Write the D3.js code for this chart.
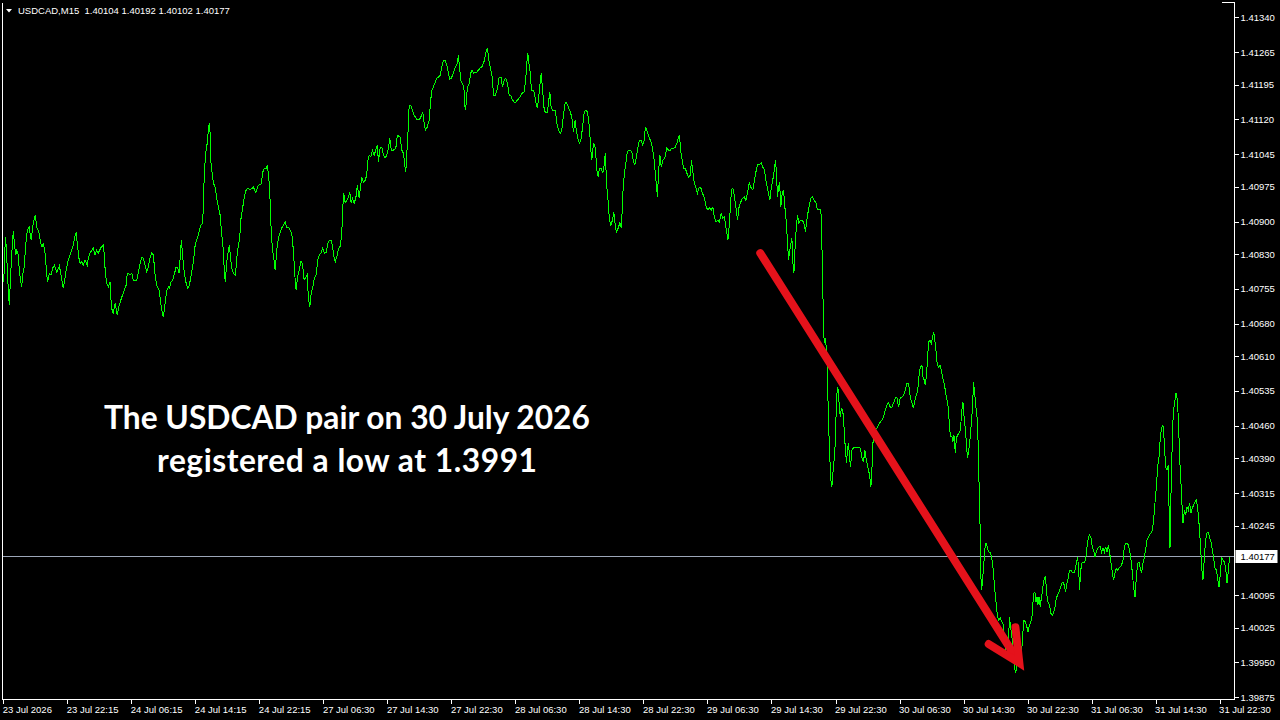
<!DOCTYPE html>
<html><head><meta charset="utf-8">
<script src="https://cdn.jsdelivr.net/npm/d3@7"></script>
<style>html,body{margin:0;padding:0;background:#000;overflow:hidden}</style>
</head><body>
<svg id="c" width="1280" height="720"></svg>
<script>
// ---------- data ----------
const symbolLabel = "USDCAD,M15";
const ohlcValues = [1.40104, 1.40192, 1.40102, 1.40177];
const lastClose = 1.40177;
const priceTicks = [1.41340,1.41265,1.41195,1.41120,1.41045,1.40975,1.40900,1.40830,1.40755,1.40680,1.40610,1.40535,1.40460,1.40390,1.40315,1.40245,1.40095,1.40025,1.39950,1.39875];
const timeTickBars = [0,32,64,96,128,160,192,224,256,288,320,352,384,416,448,480,512,544,576,608];
const timeTickLabels = ["23 Jul 2026","23 Jul 22:15","24 Jul 06:15","24 Jul 14:15","24 Jul 22:15","27 Jul 06:30","27 Jul 14:30","27 Jul 22:30","28 Jul 06:30","28 Jul 14:30","28 Jul 22:30","29 Jul 06:30","29 Jul 14:30","29 Jul 22:30","30 Jul 06:30","30 Jul 14:30","30 Jul 22:30","31 Jul 06:30","31 Jul 14:30","31 Jul 22:30"];
// [bar index (M15 bars from 23 Jul 14:15), close price]
const closeSeries = [
[0,1.40770],[0.5,1.40795],[1,1.40866],[1.5,1.40845],[2.5,1.40752],[3,1.40720],[3.7,1.40789],[4.7,1.40864],[5,1.40879],[5.7,1.40845],[6.2,1.40828],[6.7,1.40838],[7.5,1.40828],[8,1.40795],[8.7,1.40770],[9.2,1.40759],[9.7,1.40785],[10.4,1.40802],[11.2,1.40849],[12,1.40881],[12.9,1.40888],[13.9,1.40860],[14.7,1.40888],[15.5,1.40907],[16,1.40914],[16.7,1.40888],[17.7,1.40879],[18.7,1.40853],[19.4,1.40845],[20,1.40853],[20.9,1.40832],[21.7,1.40785],[22.2,1.40770],[23,1.40789],[23.9,1.40785],[24.7,1.40800],[25.5,1.40806],[26.7,1.40791],[28,1.40804],[28.7,1.40789],[29.7,1.40763],[30,1.40757],[30.9,1.40780],[31.7,1.40802],[32.5,1.40817],[33.4,1.40828],[34.7,1.40845],[35.9,1.40871],[36.4,1.40875],[37,1.40853],[37.7,1.40823],[38.4,1.40810],[39.2,1.40813],[40,1.40806],[40.9,1.40817],[42,1.40806],[42.5,1.40821],[43.4,1.40832],[44.2,1.40838],[45,1.40843],[45.9,1.40828],[46.7,1.40838],[47.5,1.40832],[48.7,1.40843],[50,1.40849],[50.5,1.40828],[51,1.40789],[51.7,1.40767],[52.5,1.40759],[53.4,1.40770],[53.9,1.40726],[54.5,1.40705],[55,1.40703],[55.9,1.40724],[57,1.40698],[57.7,1.40716],[58.4,1.40726],[59.2,1.40737],[60,1.40746],[61.4,1.40763],[62,1.40789],[63.4,1.40785],[64.2,1.40789],[65,1.40774],[65.9,1.40772],[66.7,1.40774],[67.5,1.40791],[68.4,1.40810],[69.2,1.40823],[70,1.40821],[70.9,1.40806],[71.7,1.40791],[72.5,1.40802],[73.4,1.40823],[74.2,1.40832],[75,1.40828],[75.9,1.40785],[76.7,1.40763],[77.9,1.40752],[78.7,1.40724],[79.5,1.40703],[80,1.40694],[80.9,1.40724],[81.7,1.40752],[82.5,1.40759],[83,1.40757],[83.9,1.40770],[84.7,1.40774],[85.4,1.40785],[86.4,1.40802],[87.2,1.40800],[87.9,1.40789],[89,1.40860],[89.7,1.40823],[90.5,1.40789],[91.4,1.40767],[92.2,1.40757],[93,1.40763],[94.2,1.40791],[95,1.40813],[96,1.40853],[97,1.40864],[97.7,1.40875],[98.7,1.40892],[99.7,1.40897],[100.5,1.41006],[101.2,1.41047],[102,1.41071],[102.5,1.41097],[103,1.41112],[103.4,1.41090],[103.7,1.41032],[104.4,1.41004],[105,1.40983],[105.9,1.40974],[106.7,1.40950],[107.5,1.40931],[108.4,1.40914],[109.2,1.40871],[110,1.40838],[110.5,1.40789],[111,1.40770],[111.7,1.40813],[112.4,1.40834],[113,1.40849],[113.7,1.40817],[114.4,1.40795],[115,1.40789],[115.9,1.40785],[116.4,1.40802],[117,1.40834],[117.7,1.40853],[118.2,1.40866],[118.7,1.40903],[119.7,1.40931],[120.5,1.40953],[121.4,1.40968],[122.5,1.40972],[123.4,1.40968],
[125,1.40974],[126.2,1.40963],[127.5,1.40978],[128.9,1.40981],[129.7,1.41006],[130.4,1.41015],[131.4,1.41015],[132,1.41022],[132.9,1.40985],[133.4,1.40942],[133.9,1.40881],[134.5,1.40843],[135.2,1.40821],[135.9,1.40795],[136.7,1.40838],[137.5,1.40864],[138.4,1.40877],[139.2,1.40886],[140,1.40892],[140.9,1.40899],[141.7,1.40888],[142.5,1.40888],[143.4,1.40881],[144.2,1.40875],[145,1.40838],[145.9,1.40774],[146.4,1.40752],[147,1.40778],[147.9,1.40795],[148.7,1.40813],[149.2,1.40813],[149.7,1.40802],[150.4,1.40774],[151.2,1.40780],[151.9,1.40785],[152.5,1.40737],[153.2,1.40716],[153.9,1.40746],[154.7,1.40757],[155.5,1.40778],[156.4,1.40785],[157.2,1.40817],[158,1.40828],[158.9,1.40832],[159.7,1.40843],[160.5,1.40832],[161.4,1.40834],[162.2,1.40853],[163,1.40860],[163.9,1.40860],[164.7,1.40843],[165.4,1.40821],[166,1.40813],[166.9,1.40828],[167.7,1.40843],[168.5,1.40847],[169.2,1.40877],[169.7,1.40931],[170.2,1.40961],[170.9,1.40940],[171.7,1.40946],[172.5,1.40953],[173.2,1.40963],[173.9,1.40940],[174.5,1.40950],[175.4,1.40940],[176.2,1.40950],[177,1.40978],[177.9,1.40950],[178.5,1.40974],[179.2,1.40996],[180,1.40985],[180.9,1.40989],[181.7,1.41000],[182,1.41026],[182.9,1.41043],[183.7,1.41039],[184.5,1.41054],[185.4,1.41043],[186.2,1.41054],[187,1.41065],[187.5,1.41028],[188.4,1.41060],[189.2,1.41060],[190,1.41043],[190.9,1.41037],[191.7,1.41043],[192.5,1.41058],[193.2,1.41080],[193.9,1.41054],[195,1.41054],[196.2,1.41058],[197,1.41086],[198.4,1.41082],[199.2,1.41054],[200,1.41047],[200.7,1.41022],[201.2,1.41006],[201.7,1.41047],[202.2,1.41082],[202.9,1.41151],[203.7,1.41151],[204.5,1.41140],[205.4,1.41129],[206.2,1.41123],[207,1.41119],[207.9,1.41119],[208.7,1.41125],[209.7,1.41136],[210.4,1.41112],[211,1.41097],[211.9,1.41103],[212.9,1.41119],[213.5,1.41155],[214.2,1.41183],[215,1.41190],[215.9,1.41200],[216.7,1.41209],[217.5,1.41211],[218.4,1.41215],[219.2,1.41233],[220,1.41246],[220.9,1.41246],[221.7,1.41237],[222.5,1.41220],[223.2,1.41207],[224,1.41209],[225,1.41220],[225.9,1.41233],[226.7,1.41237],[227.5,1.41258],[228,1.41233],[228.9,1.41200],[229.5,1.41198],[230.2,1.41190],[230.9,1.41140],[231.4,1.41155],[232,1.41190],[232.9,1.41198],[233.7,1.41220],[234.2,1.41226],[235,1.41220],[235.9,1.41222],[236.7,1.41222],[237.5,1.41226],[238.4,1.41231],[239.2,1.41233],[240.2,1.41243],[241.2,1.41263],[242,1.41274],[242.9,1.41243],[243.7,1.41226],[244.5,1.41209],[245,1.41172],[245.9,1.41172],
[247,1.41187],[247.9,1.41211],[248.9,1.41211],[249.5,1.41190],[250.4,1.41205],[251.2,1.41209],[252,1.41198],[252.9,1.41172],[253.7,1.41172],[254.5,1.41162],[255.4,1.41157],[256.2,1.41157],[257,1.41162],[257.9,1.41166],[258.7,1.41172],[259.5,1.41177],[260.4,1.41179],[261.2,1.41209],[261.7,1.41241],[262.2,1.41263],[262.7,1.41243],[263.4,1.41220],[264,1.41183],[264.7,1.41183],[265.5,1.41177],[266.2,1.41157],[267,1.41144],[267.7,1.41172],[268.4,1.41200],[268.9,1.41220],[269.5,1.41187],[270.4,1.41140],[271.2,1.41134],[272,1.41134],[272.5,1.41155],[273.2,1.41179],[273.9,1.41144],[274.7,1.41140],[275.9,1.41140],[276.7,1.41112],[277.5,1.41097],[278.4,1.41090],[279.2,1.41097],[280,1.41129],[280.9,1.41157],[281.7,1.41155],[282.5,1.41146],[283.4,1.41136],[284.2,1.41125],[285,1.41093],[285.9,1.41119],[286.4,1.41097],[287.2,1.41080],[287.9,1.41069],[288.7,1.41075],[289.5,1.41101],[290.4,1.41136],[291.2,1.41140],[292,1.41136],[293,1.41103],[293.7,1.41054],[294.2,1.41032],[295,1.41069],[295.9,1.41060],[296.7,1.41011],[297.4,1.40996],[298,1.41015],[298.9,1.41015],[299.7,1.41004],[300.4,1.41022],[300.9,1.41047],[301.7,1.40974],[302.4,1.40940],[303,1.40903],[303.7,1.40892],[304.5,1.40903],[305.2,1.40920],[305.9,1.40892],[306.5,1.40877],[307.4,1.40886],[308.2,1.40897],[309,1.40886],[309.7,1.40961],[310.5,1.41006],[311.2,1.41026],[311.9,1.41050],[312.7,1.41054],[313.5,1.41054],[314.4,1.41047],[315,1.41028],[315.7,1.41022],[316.4,1.41037],[317.2,1.41060],[318,1.41075],[318.9,1.41075],[319.5,1.41065],[320.2,1.41071],[320.7,1.41093],[321.2,1.41103],[321.9,1.41093],[322.7,1.41082],[323.5,1.41075],[324.4,1.41060],[325.2,1.41039],[325.9,1.41004],[326.5,1.40978],[327,1.40953],[327.5,1.41004],[328.2,1.41043],[328.9,1.41017],[329.7,1.41032],[330.7,1.41037],[331.7,1.41058],[332.5,1.41054],[333.4,1.41054],[334.2,1.41058],[335,1.41058],[335.9,1.41060],[336.7,1.41069],[337.5,1.41080],[338,1.41086],[338.7,1.41050],[339.4,1.41032],[340,1.41015],[340.9,1.41015],[341.7,1.41004],[342.5,1.40996],[343.4,1.41000],[344,1.41032],[344.7,1.41006],[345.4,1.40983],[346.2,1.40974],[347,1.40961],[347.9,1.40974],[348.7,1.40972],[349.5,1.40961],[350.5,1.40950],[351.4,1.40931],[352.2,1.40925],[353,1.40929],[353.9,1.40925],[354.7,1.40931],[355.5,1.40907],[356.4,1.40899],[357.2,1.40903],[358,1.40899],[358.9,1.40918],[359.5,1.40907],[360.5,1.40910],[361.2,1.40888],[361.7,1.40875],[362.2,1.40860],[362.9,1.40892],[363.4,1.40929],[364,1.40968],[364.7,1.40972],[365.5,1.40953],[366.4,1.40925],[367,1.40903],[367.7,1.40929],[368.4,1.40940],
[369.5,1.40950],[370.4,1.40953],[371.2,1.40946],[372,1.40963],[372.9,1.40983],[373.7,1.40974],[374.7,1.40968],[375.5,1.40989],[376.4,1.41011],[377,1.41022],[377.9,1.41022],[378.9,1.41026],[379.7,1.41017],[380.5,1.41011],[381.2,1.40989],[381.9,1.40974],[382.5,1.40961],[383.2,1.40946],[383.9,1.40974],[384.5,1.40985],[385.4,1.41011],[386,1.41032],[386.5,1.41004],[387,1.40953],[387.5,1.40972],[388,1.40985],[388.7,1.40931],[389.2,1.40957],[390,1.40968],[390.7,1.40931],[391.4,1.40899],[391.9,1.40864],[392.5,1.40817],[393,1.40832],[393.5,1.40849],[394.2,1.40864],[394.7,1.40810],[395.2,1.40789],[395.9,1.40853],[396.4,1.40886],[397,1.40914],[397.7,1.40897],[398.5,1.40903],[399.4,1.40903],[400.2,1.40897],[401,1.40877],[401.5,1.40899],[402.2,1.40918],[402.9,1.40935],[403.7,1.40950],[404.5,1.40953],[405.4,1.40946],[406.2,1.40940],[407,1.40925],[407.9,1.40925],[408.7,1.40925],[409.2,1.40853],[409.5,1.40774],[409.9,1.40709],[410.2,1.40651],[410.5,1.40638],[410.9,1.40649],[411.4,1.40629],[411.9,1.40586],[412.2,1.40522],[412.7,1.40444],[413.2,1.40386],[413.7,1.40343],[414.2,1.40328],[414.7,1.40358],[415.2,1.40380],[415.7,1.40408],[416,1.40444],[416.4,1.40500],[416.9,1.40543],[417.4,1.40537],[417.9,1.40500],[418.4,1.40479],[418.9,1.40498],[419.5,1.40494],[420,1.40479],[420.5,1.40436],[421,1.40408],[421.5,1.40380],[422,1.40408],[422.5,1.40423],[423,1.40392],[423.5,1.40371],[424.2,1.40408],[425,1.40412],[425.9,1.40414],[426.7,1.40414],[427.5,1.40414],[428.4,1.40412],[429.2,1.40392],[430,1.40382],[430.7,1.40408],[431.4,1.40386],[432.2,1.40371],[433,1.40354],[433.7,1.40328],[434.2,1.40365],[434.7,1.40423],[435.4,1.40436],[436,1.40451],[437,1.40457],[438,1.40466],[439.2,1.40472],[440,1.40479],[440.9,1.40494],[441.7,1.40505],[442.5,1.40509],[443.4,1.40500],[444.2,1.40500],[445,1.40509],[445.9,1.40520],[446.7,1.40522],[447.5,1.40500],[448.4,1.40520],[449.2,1.40522],[450,1.40526],[450.9,1.40537],[451.7,1.40552],[452.5,1.40552],[453.4,1.40520],[454.2,1.40509],[455,1.40498],[455.9,1.40520],[456.7,1.40530],[457.2,1.40541],[457.9,1.40576],[458.5,1.40586],[459.2,1.40591],[459.7,1.40565],[460.4,1.40558],[460.9,1.40548],[461.4,1.40565],[462,1.40602],[462.5,1.40640],[463.2,1.40645],[463.9,1.40638],[464.5,1.40651],[465,1.40662],[465.5,1.40651],[466.2,1.40623],[466.9,1.40591],[467.5,1.40586],[468.2,1.40591],[468.9,1.40580],[469.5,1.40565],[470.2,1.40552],[470.9,1.40537],[471.5,1.40520],[472.2,1.40505],[472.9,1.40466],[473.4,1.40436],[474.2,1.40436],[474.7,1.40425],[475.2,1.40440],[475.9,1.40401],[476.4,1.40433],[477,1.40440],[477.7,1.40444],[478.4,1.40451],
[479.2,1.40494],[479.7,1.40511],[480.4,1.40472],[481,1.40451],[481.5,1.40414],[482,1.40390],[482.5,1.40403],[483.2,1.40429],[483.9,1.40466],[484.5,1.40500],[485,1.40554],[485.5,1.40533],[486.2,1.40500],[486.9,1.40472],[487.4,1.40408],[487.9,1.40306],[488.4,1.40220],[488.7,1.40134],[489,1.40106],[489.4,1.40121],[489.9,1.40149],[490.4,1.40177],[490.9,1.40207],[491.5,1.40207],[492.2,1.40192],[492.9,1.40186],[493.5,1.40186],[494,1.40177],[494.5,1.40164],[495,1.40143],[495.5,1.40112],[496,1.40091],[496.5,1.40069],[497,1.40048],[497.7,1.40041],[498.4,1.40046],[499.2,1.40037],[499.7,1.40035],[500.2,1.40013],[500.9,1.39992],[501.4,1.39962],[501.9,1.39962],[502.5,1.40005],[503,1.40048],[503.5,1.40026],[504.2,1.40005],[504.7,1.39977],[505.4,1.39949],[505.9,1.39927],[506.4,1.39934],[506.9,1.39949],[507.4,1.39970],[508,1.39983],[508.5,1.39970],[509.2,1.39983],[509.7,1.40016],[510.2,1.40041],[510.9,1.40037],[511.7,1.40026],[512.2,1.40016],[512.9,1.40031],[513.5,1.40035],[514.2,1.40048],[514.7,1.40078],[515.2,1.40100],[515.7,1.40102],[516.2,1.40080],[516.7,1.40091],[517.2,1.40074],[517.7,1.40091],[518.4,1.40069],[518.9,1.40091],[519.4,1.40102],[519.9,1.40121],[520.4,1.40132],[520.9,1.40134],[521.4,1.40112],[521.9,1.40084],[522.5,1.40078],[523,1.40074],[523.7,1.40056],[524.4,1.40052],[525,1.40056],[525.7,1.40069],[526.4,1.40089],[527,1.40095],[527.7,1.40102],[528.4,1.40110],[529.2,1.40121],[530,1.40123],[530.5,1.40112],[531,1.40102],[531.7,1.40121],[532.4,1.40134],[533,1.40149],[533.7,1.40149],[534.4,1.40143],[535.2,1.40143],[535.7,1.40149],[536.4,1.40164],[537,1.40177],[537.5,1.40156],[538,1.40106],[538.5,1.40143],[539,1.40164],[539.7,1.40166],[540.4,1.40166],[541,1.40171],[541.7,1.40199],[542.4,1.40220],[543,1.40225],[543.7,1.40218],[544.4,1.40199],[545,1.40192],[545.7,1.40177],[546.4,1.40188],[547,1.40196],[547.7,1.40199],[548.4,1.40199],[549,1.40188],[549.7,1.40196],[550.4,1.40188],[551,1.40199],[551.7,1.40188],[552.4,1.40203],[553,1.40188],[553.7,1.40164],[554.4,1.40143],[555,1.40128],[555.7,1.40143],[556.4,1.40153],[557,1.40149],[557.7,1.40153],[558.4,1.40156],[559,1.40160],[559.7,1.40171],[560.4,1.40199],[561,1.40207],[561.7,1.40207],[562.4,1.40203],[563,1.40192],[563.7,1.40171],[564.4,1.40143],[565,1.40112],[565.7,1.40091],[566.4,1.40134],[567,1.40164],[567.7,1.40166],[568.4,1.40153],[569,1.40143],[569.7,1.40164],[570.4,1.40177],[571,1.40192],[571.7,1.40214],[572.4,1.40220],[573,1.40225],[573.7,1.40229],[574.4,1.40235],[575,1.40257],[575.7,1.40294],[576.4,1.40328],[577,1.40371],[577.7,1.40392],[578.4,1.40436],[579,1.40455],[579.7,1.40461],[580.4,1.40423],[581,1.40371],[581.7,1.40365],[582.4,1.40375],[582.9,1.40235],[583.2,1.40196],[583.5,1.40278],[584,1.40365],[584.5,1.40457],[585,1.40494],[585.7,1.40515],[586.2,1.40530],[586.7,1.40520],[587.4,1.40477],[588,1.40392],[588.7,1.40336],[589.2,1.40289],[589.7,1.40250],[590.4,1.40278],[591,1.40268],[591.7,1.40285],[592.4,1.40278],[593,1.40294],[593.7,1.40272],[594.4,1.40283],[595,1.40289],[595.7,1.40296],[596.4,1.40300],[597,1.40285],[597.7,1.40250],[598.4,1.40207],[599,1.40156],[599.7,1.40128],[600.4,1.40177],[601,1.40214],[601.7,1.40229],[602.4,1.40229],[603,1.40220],[603.7,1.40209],[604.4,1.40192],[605,1.40175],[605.7,1.40153],[606.4,1.40149],[607,1.40132],[607.7,1.40112],[608.4,1.40143],[609,1.40175],[609.7,1.40171],[610.4,1.40166],[611,1.40156],[611.7,1.40121],[612.4,1.40149],[613,1.40177]
];
const noteLines = ["The USDCAD pair on 30 July 2026", "registered a low at 1.3991"];
const arrowStart = [378.4, 1.40832];   // [bar, price]
const arrowTip = [507.9, 1.39949];     // [bar, price]

// ---------- drawing ----------
const svg = d3.select("#c");
const W = 1280, H = 720;
const plotLeft = 2.5, plotRight = 1234.5, plotTop = 2.5, plotBottom = 699.5;

svg.append("rect").attr("width", W).attr("height", H).attr("fill", "#000");

const x = d3.scaleLinear().domain([0, 608]).range([3.3, 1219.6]);
const y = d3.scaleLinear().domain([1.39875, 1.41340]).range([697.3, 17.3]);

svg.append("defs").append("clipPath").attr("id", "plotclip")
  .append("rect").attr("x", plotLeft + 0.5).attr("y", plotTop)
  .attr("width", plotRight - plotLeft - 1).attr("height", plotBottom - plotTop - 0.5);

const labelFont = "'Liberation Sans', Arial, sans-serif";

// bid line
const yLast = Math.round(y(lastClose)) - 0.5;
svg.append("line").attr("x1", plotLeft).attr("x2", plotRight)
  .attr("y1", yLast).attr("y2", yLast)
  .attr("stroke", "#9ca6b8").attr("stroke-width", 1);

// price line
const line = d3.line().x(d => x(d[0])).y(d => y(d[1]));
svg.append("g").attr("clip-path", "url(#plotclip)")
  .append("path").datum(closeSeries)
  .attr("d", line).attr("fill", "none")
  .attr("stroke", "#00ff00").attr("stroke-width", 1)
  .attr("shape-rendering", "crispEdges");

// frame
const frame = svg.append("g").attr("stroke", "#ffffff").attr("stroke-width", 1).attr("shape-rendering", "crispEdges");
frame.append("line").attr("x1", plotLeft).attr("x2", plotLeft).attr("y1", plotTop).attr("y2", plotBottom);
frame.append("line").attr("x1", plotLeft).attr("x2", plotRight).attr("y1", plotBottom).attr("y2", plotBottom);
frame.append("line").attr("x1", plotRight).attr("x2", plotRight).attr("y1", plotTop).attr("y2", plotBottom);
frame.append("line").attr("x1", 1222).attr("x2", plotRight).attr("y1", plotTop).attr("y2", plotTop);

// right price axis
const yAxis = d3.axisRight(y).tickValues(priceTicks).tickSize(4).tickPadding(2)
  .tickFormat(d3.format(".5f"));
const gy = svg.append("g").attr("transform", `translate(${plotRight},0)`).call(yAxis);
gy.select(".domain").remove();
gy.selectAll(".tick line").attr("stroke", "#fff").attr("shape-rendering", "crispEdges");
gy.selectAll(".tick text").attr("fill", "#fff").attr("font-family", labelFont).attr("font-size", 9.5);

// bottom time axis
const xAxis = d3.axisBottom(x).tickValues(timeTickBars).tickSize(4).tickPadding(3)
  .tickFormat((d, i) => timeTickLabels[i]);
const gx = svg.append("g").attr("transform", `translate(0,${plotBottom})`).call(xAxis);
gx.select(".domain").remove();
gx.selectAll(".tick line").attr("stroke", "#fff").attr("shape-rendering", "crispEdges");
gx.selectAll(".tick text").attr("fill", "#fff").attr("font-family", labelFont).attr("font-size", 9.5)
  .attr("text-anchor", "start").attr("x", -1);

// last price label
const lp = svg.append("g");
lp.append("rect").attr("x", plotRight + 1).attr("y", yLast - 6.5).attr("width", 42).attr("height", 13).attr("fill", "#fff");
lp.append("text").attr("x", plotRight + 6).attr("y", yLast + 3.5).attr("fill", "#000")
  .attr("font-family", labelFont).attr("font-size", 9.5).text(d3.format(".5f")(lastClose));

// header
svg.append("path").attr("d", "M6,9L12,9L9,12.5Z").attr("fill", "#fff");
svg.append("text").attr("x", 18).attr("y", 14).attr("fill", "#fff")
  .attr("font-family", labelFont).attr("font-size", 9.5).style("white-space", "pre")
  .text(symbolLabel + "  " + ohlcValues.map(d3.format(".5f")).join(" "));

// annotation text
const note = svg.append("g").attr("fill", "#fff").attr("font-family", "Lato, 'Open Sans', sans-serif")
  .attr("font-weight", 700).attr("text-anchor", "middle");
const t1 = note.append("text").attr("x", 347).attr("y", 429).attr("font-size", 33).text(noteLines[0]);
const t2 = note.append("text").attr("x", 347).attr("y", 472).attr("font-size", 33).text(noteLines[1]);
const len = t1.node().getComputedTextLength();
if (len > 0) { const fs = 33 * 486 / len; t1.attr("font-size", fs); t2.attr("font-size", fs); }
const len2 = t2.node().getComputedTextLength();
if (len2 > 0 && len2 < 380) { t2.attr("textLength", 380).attr("lengthAdjust", "spacing"); }

// red arrow
const ax0 = x(arrowStart[0]), ay0 = y(arrowStart[1]);
const ax1 = x(arrowTip[0]), ay1 = y(arrowTip[1]);
const ang = Math.atan2(ay0 - ay1, ax0 - ax1);
const barb = 36, spread = 26 * Math.PI / 180;
const red = "#e5121b";
svg.append("line").attr("x1", ax0).attr("y1", ay0)
  .attr("x2", ax1 + Math.cos(ang) * 4).attr("y2", ay1 + Math.sin(ang) * 4)
  .attr("stroke", red).attr("stroke-width", 8).attr("stroke-linecap", "round");
svg.append("path")
  .attr("d", `M${ax1 + Math.cos(ang - spread) * barb},${ay1 + Math.sin(ang - spread) * barb}L${ax1},${ay1}L${ax1 + Math.cos(ang + spread) * barb},${ay1 + Math.sin(ang + spread) * barb}`)
  .attr("fill", "none").attr("stroke", red).attr("stroke-width", 8)
  .attr("stroke-linecap", "round").attr("stroke-linejoin", "miter");
</script>
</body></html>
